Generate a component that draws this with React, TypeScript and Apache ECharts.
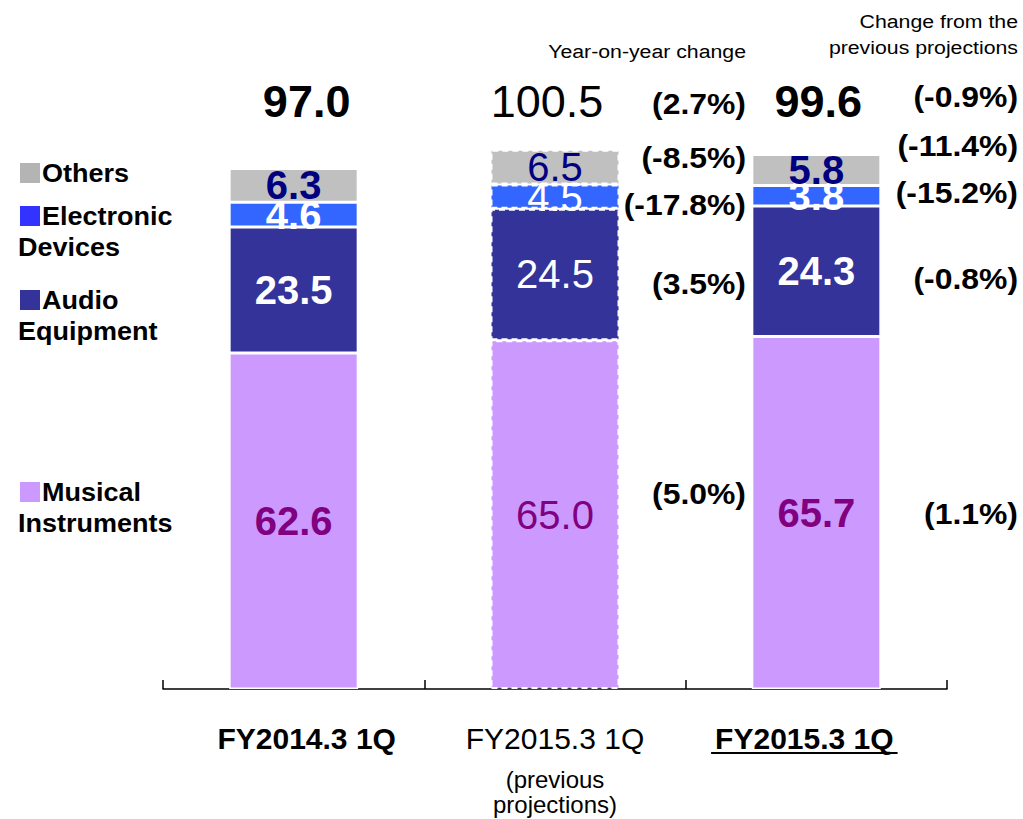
import React, { useEffect, useRef } from "react";
import * as echarts from "echarts";

// Net sales by segment, first quarter (billions of yen)
const categories = ["FY2014.3 1Q", "FY2015.3 1Q", "FY2015.3 1Q"];
const musicalInstruments = [62.6, 65.0, 65.7];
const audioEquipment = [23.5, 24.5, 24.3];
const electronicDevices = [4.6, 4.5, 3.8];
const others = [6.3, 6.5, 5.8];

// Percentage notes shown beside the bars (top: total, then segments top to bottom)
const yoyLabels = ["(2.7%)", "(-8.5%)", "(-17.8%)", "(3.5%)", "(5.0%)"];
const vsProjectionLabels = ["(-0.9%)", "(-11.4%)", "(-15.2%)", "(-0.8%)", "(1.1%)"];

const FONT = "'Liberation Sans', Arial, sans-serif";
const PROJECTION_INDEX = 1; // the previous-projection bar is drawn dashed / regular weight

const COLORS = {
  musical: "#CC99FF",
  audio: "#333399",
  electronic: "#3366FF",
  electronicKey: "#3333FF",
  others: "#C0C0C0",
  othersKey: "#B4B4B4",
};

function segmentSeries(
  name: string,
  values: number[],
  color: string,
  labelColor: string
) {
  return {
    name,
    type: "bar",
    stack: "sales",
    barWidth: 129,
    itemStyle: { color },
    data: values.map((v, i) => {
      const proj = i === PROJECTION_INDEX;
      return {
        value: v,
        itemStyle: proj
          ? { borderColor: "#ffffff", borderWidth: 2, borderType: [6, 4] }
          : { borderColor: "#ffffff", borderWidth: 1.5 },
        label: { fontWeight: proj ? "normal" : "bold" },
      };
    }),
    label: {
      show: true,
      position: "inside",
      color: labelColor,
      fontFamily: FONT,
      fontSize: 40,
      formatter: (p: any) => Number(p.value).toFixed(1),
    },
  };
}

export default function App() {
  const ref = useRef<HTMLDivElement>(null);

  useEffect(() => {
    if (!ref.current) return;
    const chart = echarts.init(ref.current, null, { renderer: "svg" });

    const totals = categories.map(
      (_, i) =>
        musicalInstruments[i] + audioEquipment[i] + electronicDevices[i] + others[i]
    );

    const option: any = {
      animation: false,
      grid: { left: 163, right: 76, top: 45, bottom: 130 },
      xAxis: {
        type: "category",
        data: categories,
        axisLine: { show: true, lineStyle: { color: "#000", width: 1.5 } },
        axisTick: {
          show: true,
          inside: true,
          alignWithLabel: false,
          length: 9,
          lineStyle: { color: "#000", width: 1.5 },
        },
        axisLabel: {
          margin: 34,
          interval: 0,
          fontFamily: FONT,
          color: "#000",
          formatter: (v: string, i: number) => {
            if (i === 0) return `{b|${v}}`;
            if (i === 1) return `{n|${v}}\n{g| }\n{s|(previous}\n{s|projections)}`;
            return `{u|${v}}`;
          },
          rich: {
            b: { fontSize: 30, fontWeight: "bold", fontFamily: FONT, lineHeight: 30, padding: [0, 0, 0, 26] },
            n: { fontSize: 30, fontFamily: FONT, lineHeight: 30 },
            u: { fontSize: 30, fontWeight: "bold", fontFamily: FONT, lineHeight: 30, padding: [0, 24, 0, 0] },
            g: { fontSize: 10, lineHeight: 14 },
            s: { fontSize: 24, fontFamily: FONT, lineHeight: 25 },
          },
        },
      },
      yAxis: { type: "value", min: 0, max: 120, show: false },
      series: [
        segmentSeries("Musical Instruments", musicalInstruments, COLORS.musical, "#800080"),
        segmentSeries("Audio Equipment", audioEquipment, COLORS.audio, "#ffffff"),
        segmentSeries("Electronic Devices", electronicDevices, COLORS.electronic, "#ffffff"),
        segmentSeries("Others", others, COLORS.others, "#000080"),
      ],
    };
    chart.setOption(option);

    const graphics: any[] = [];

    // Totals above each bar
    const totalShift = [13, -8, 2];
    totals.forEach((t, i) => {
      const x = chart.convertToPixel({ xAxisIndex: 0 }, i) as number;
      graphics.push({
        type: "text",
        x: x + totalShift[i],
        y: 101,
        style: {
          text: t.toFixed(1),
          fontFamily: FONT,
          fontSize: 45,
          fontWeight: i === PROJECTION_INDEX ? "normal" : "bold",
          fill: "#000",
          align: "center",
          verticalAlign: "middle",
        },
      });
    });

    // Underline under the actual-result label
    const x3 = chart.convertToPixel({ xAxisIndex: 0 }, 2) as number;
    const halfW = (5.95 * 30) / 2 + 4;
    graphics.push({
      type: "line",
      shape: { x1: x3 - 12 - halfW, y1: 753, x2: x3 - 12 + halfW, y2: 753 },
      style: { stroke: "#000", lineWidth: 2 },
    });

    // Column headings
    const head = (text: string, x: number, y: number) => ({
      type: "text",
      x,
      y,
      scaleX: 1.12,
      style: {
        text,
        fontFamily: FONT,
        fontSize: 19,
        fill: "#000",
        align: "right",
        verticalAlign: "middle",
      },
    });
    graphics.push(head("Year-on-year change", 746, 51));
    graphics.push(head("Change from the", 1018, 21));
    graphics.push(head("previous projections", 1018, 47));

    // Percentage columns
    const yoyY = [104, 158, 205, 284, 494];
    const projY = [97, 146, 193, 279, 514];
    const pct = (text: string, x: number, y: number) => ({
      type: "text",
      x,
      y,
      scaleX: 1.1,
      style: {
        text,
        fontFamily: FONT,
        fontSize: 29,
        fontWeight: "bold",
        fill: "#000",
        align: "right",
        verticalAlign: "middle",
      },
    });
    yoyLabels.forEach((t, k) => graphics.push(pct(t, 746, yoyY[k])));
    vsProjectionLabels.forEach((t, k) => graphics.push(pct(t, 1018, projY[k])));

    // Legend keys
    const keys = [
      { color: COLORS.othersKey, lines: ["Others"], y: 173 },
      { color: COLORS.electronicKey, lines: ["Electronic", "Devices"], y: 216 },
      { color: COLORS.audio, lines: ["Audio", "Equipment"], y: 300 },
      { color: COLORS.musical, lines: ["Musical", "Instruments"], y: 492 },
    ];
    keys.forEach((k) => {
      graphics.push({
        type: "rect",
        shape: { x: 20, y: k.y - 10, width: 20, height: 20 },
        style: { fill: k.color },
      });
      k.lines.forEach((ln, j) => {
        graphics.push({
          type: "text",
          x: j === 0 ? 42 : 18,
          y: k.y + j * 31,
          scaleX: 1.08,
          style: {
            text: ln,
            fontFamily: FONT,
            fontSize: 25,
            fontWeight: "bold",
            fill: "#000",
            align: "left",
            verticalAlign: "middle",
          },
        });
      });
    });

    chart.setOption({ graphic: graphics });

    return () => chart.dispose();
  }, []);

  return (
    <div
      ref={ref}
      style={{ position: "fixed", left: 0, top: 0, width: 1023, height: 819, background: "#fff" }}
    />
  );
}
